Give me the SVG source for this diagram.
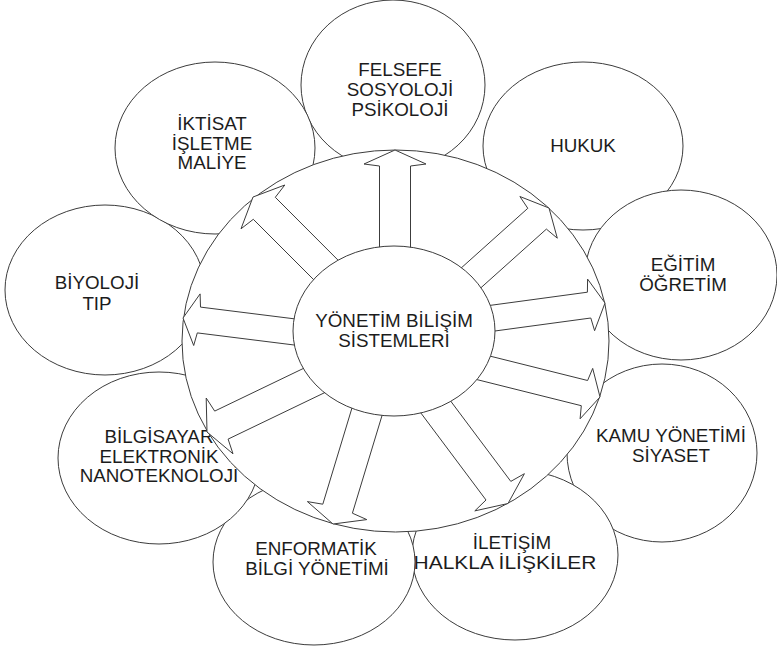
<svg xmlns="http://www.w3.org/2000/svg" width="777" height="648" viewBox="0 0 777 648">
<style>
.sh{fill:#fff;stroke:#3c3c3c;stroke-width:1}
.t{font-family:"Liberation Sans",Arial,sans-serif;font-size:18.8px;fill:#1c1c1c;text-anchor:middle}
</style>
<rect width="777" height="648" fill="#fff"/>
<g id="n-felsefe"><ellipse class="sh" cx="393" cy="85" rx="92" ry="85"/>
<text class="t" x="400" y="76">FELSEFE</text><text class="t" x="400" y="96">SOSYOLOJİ</text><text class="t" x="400" y="115.5">PSİKOLOJİ</text></g>
<g id="n-hukuk"><ellipse class="sh" cx="583" cy="146" rx="100" ry="84"/>
<text class="t" x="583" y="152">HUKUK</text></g>
<g id="n-egitim"><ellipse class="sh" cx="681" cy="275" rx="96" ry="85"/>
<text class="t" x="683" y="271">EĞİTİM</text><text class="t" x="683" y="291">ÖĞRETİM</text></g>
<g id="n-kamu"><ellipse class="sh" cx="662" cy="453" rx="95" ry="89"/>
<text class="t" x="671" y="442">KAMU YÖNETİMİ</text><text class="t" x="671" y="462">SİYASET</text></g>
<g id="n-iletisim"><ellipse class="sh" cx="515" cy="555" rx="103" ry="85"/>
<text class="t" x="512" y="549">İLETİŞİM</text><text class="t" x="505" y="569" textLength="183" lengthAdjust="spacingAndGlyphs">HALKLA İLİŞKİLER</text></g>
<g id="n-enformatik"><ellipse class="sh" cx="314" cy="562" rx="101" ry="83"/>
<text class="t" x="316" y="555">ENFORMATİK</text><text class="t" x="317" y="575">BİLGİ YÖNETİMİ</text></g>
<g id="n-bilgisayar"><ellipse class="sh" cx="159" cy="458" rx="101" ry="86"/>
<text class="t" x="159" y="443">BİLGİSAYAR</text><text class="t" x="159" y="463">ELEKTRONİK</text><text class="t" x="159" y="482">NANOTEKNOLOJİ</text></g>
<g id="n-biyoloji"><ellipse class="sh" cx="105" cy="290" rx="100" ry="85"/>
<text class="t" x="97" y="289">BİYOLOJİ</text><text class="t" x="97" y="310">TIP</text></g>
<g id="n-iktisat"><ellipse class="sh" cx="215" cy="148" rx="100" ry="86"/>
<text class="t" x="212" y="130">İKTİSAT</text><text class="t" x="212" y="150">İŞLETME</text><text class="t" x="212" y="169">MALİYE</text></g>
<g id="ring"><ellipse class="sh" cx="395.5" cy="341" rx="213.5" ry="191"/></g>
<g id="connectors">
<polygon class="sh" points="410.5,259 410.5,166 426,164 395,150 364,164 379.5,166 379.5,259"/>
<polygon class="sh" points="345.4,267.5 275.3,197.3 284.8,185 253,197 241,228.8 253.3,219.3 323.5,289.5"/>
<polygon class="sh" points="308.5,320.6 200.5,307.1 200.1,293.9 183,318 193.7,345.5 197.3,332.9 305.3,346.4"/>
<polygon class="sh" points="315.1,362.8 214.7,411.1 206.2,398 207,432 233,453.8 228.1,439.1 328.5,390.8"/>
<polygon class="sh" points="354.7,399 322.8,504.2 307.4,501.6 333,524 366.8,519.6 352.4,513.2 384.3,408"/>
<polygon class="sh" points="418.4,409.7 486,500 474.8,510.9 508,503.5 524.4,473.7 510.8,481.4 443.2,391.1"/>
<polygon class="sh" points="473.3,378.7 581.3,405.7 580.1,418.8 600,397 592.7,368.4 587.6,380.5 479.6,353.5"/>
<polygon class="sh" points="483.8,332.5 590.8,318 594.6,330.7 605,303 587.6,279.1 587.4,292.2 480.4,306.7"/>
<polygon class="sh" points="472.4,295.4 546.4,229.1 557.3,238.2 549,208 519.9,196.5 527.8,208.3 453.8,274.6"/>
</g>
<g id="n-center"><ellipse class="sh" cx="394" cy="331" rx="101" ry="85"/>
<text class="t" x="394" y="327">YÖNETİM BİLİŞİM</text><text class="t" x="394" y="347">SİSTEMLERİ</text></g>
</svg>
